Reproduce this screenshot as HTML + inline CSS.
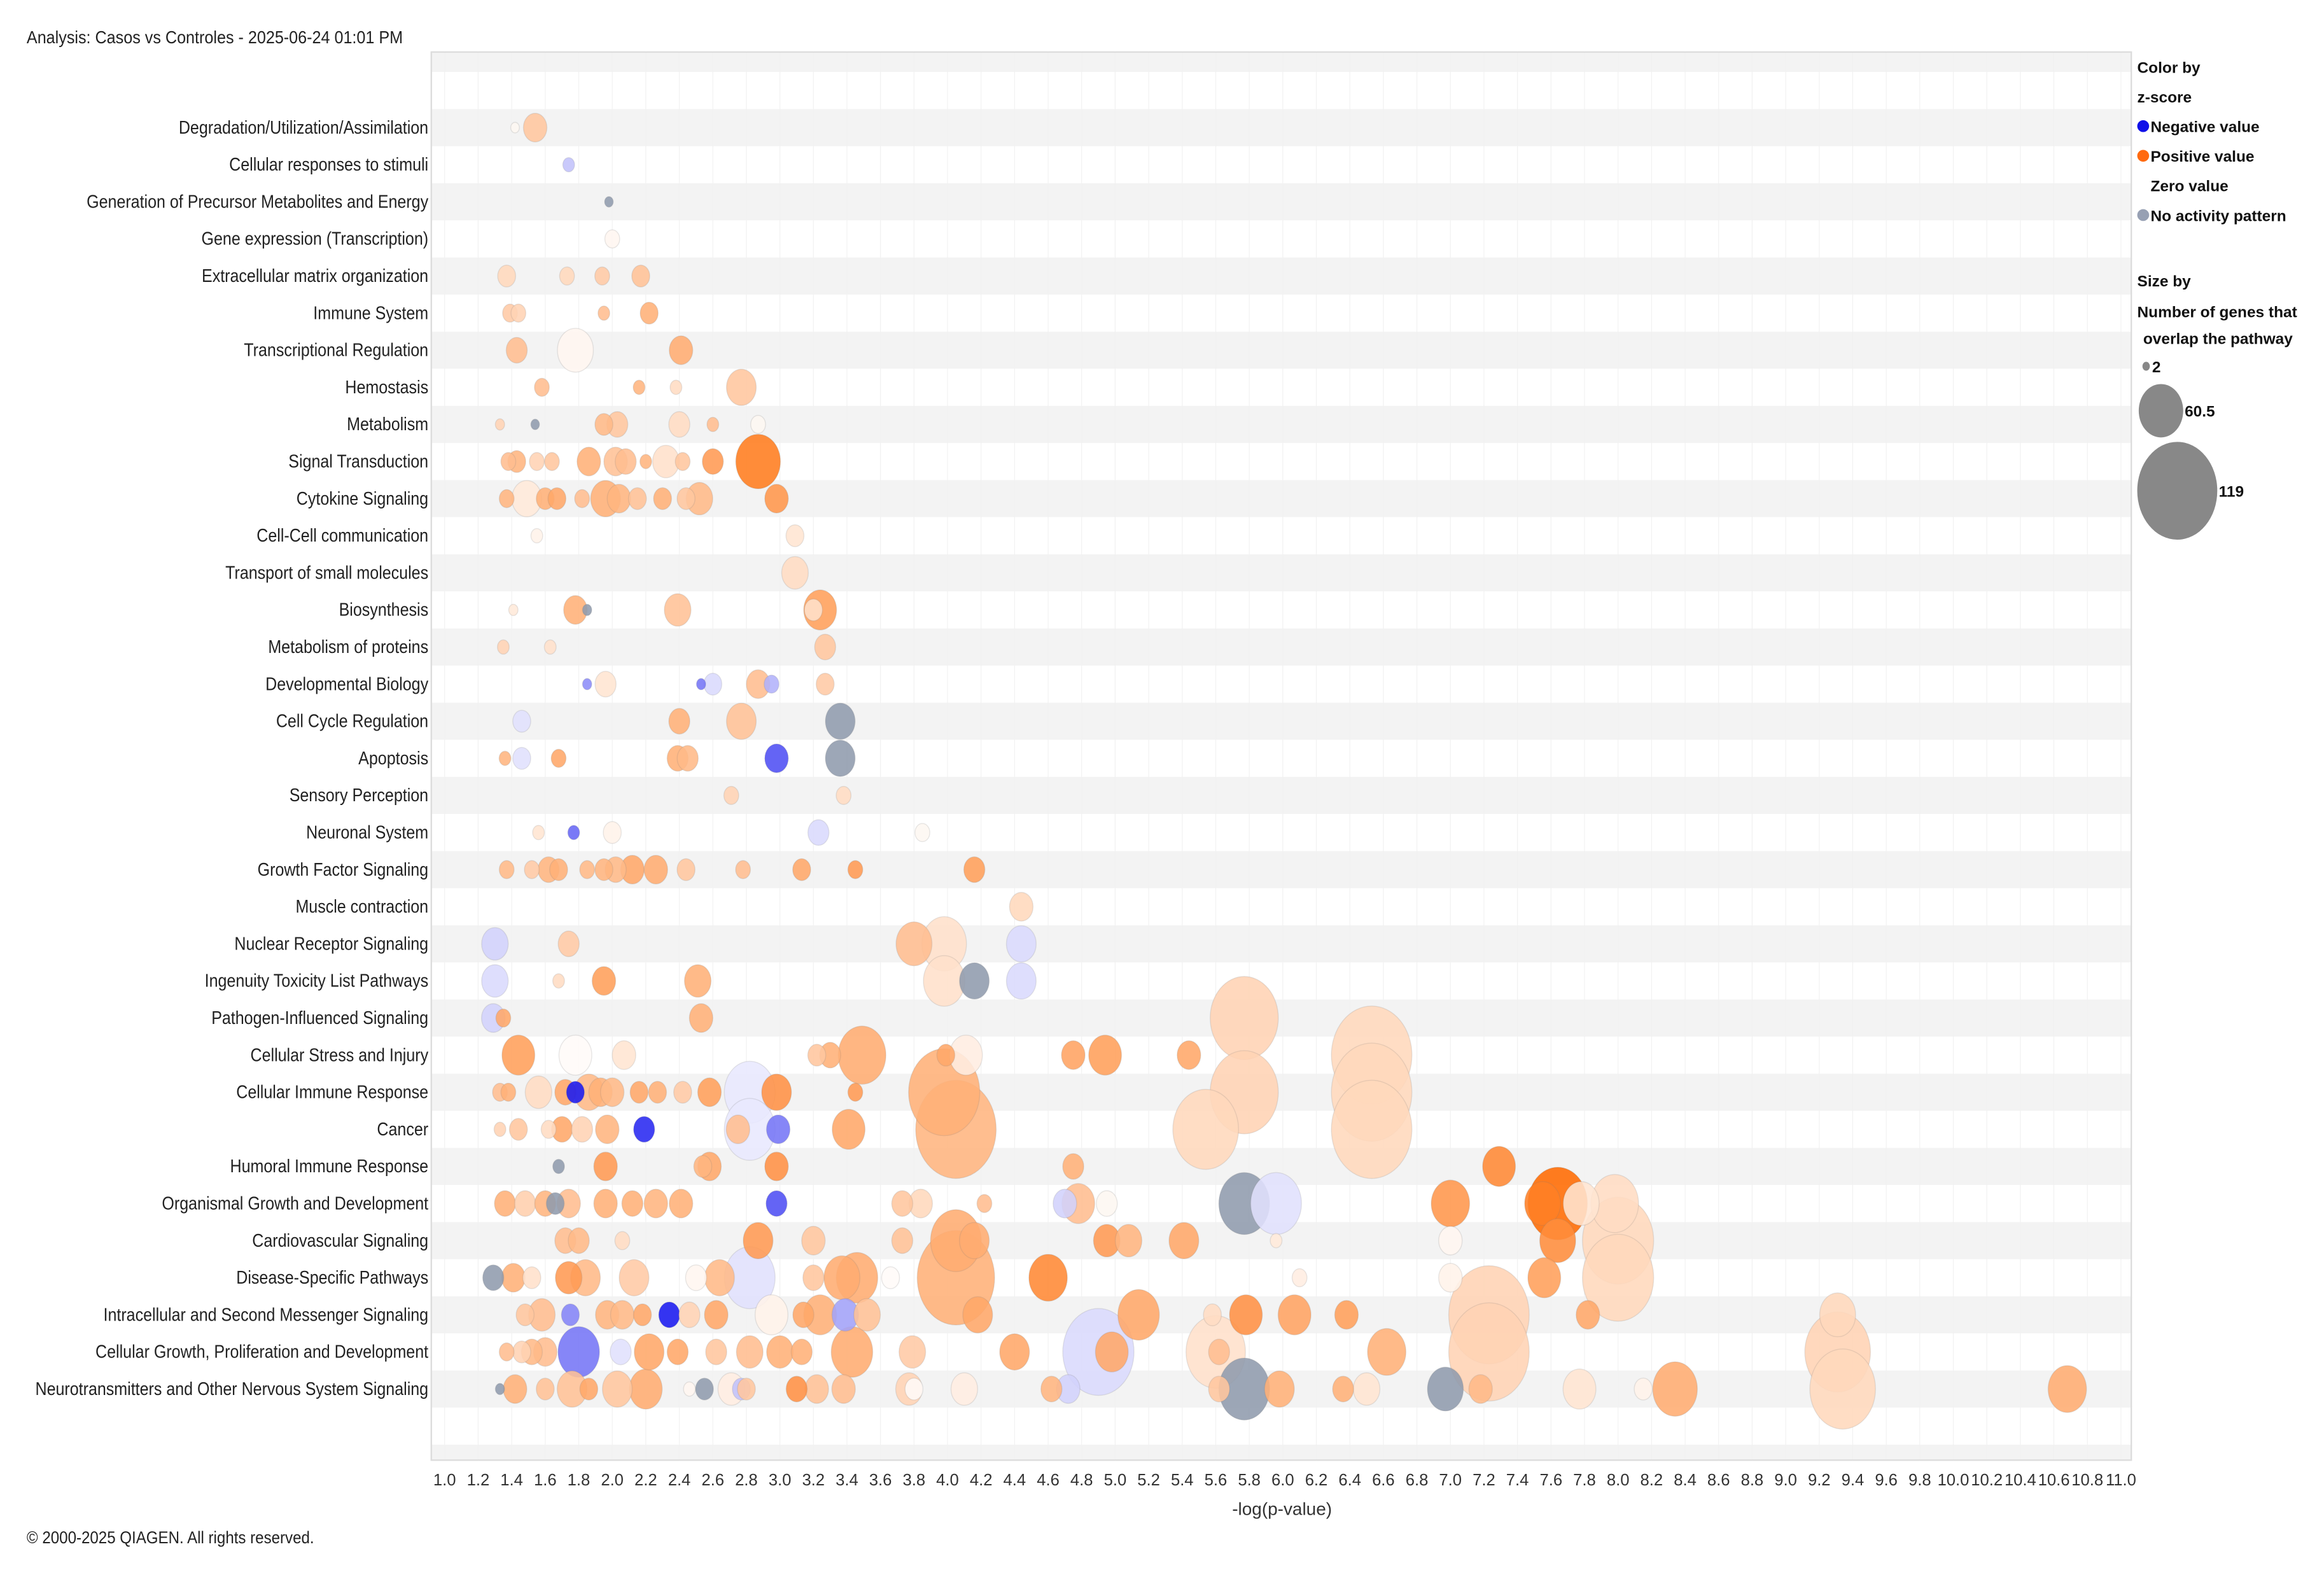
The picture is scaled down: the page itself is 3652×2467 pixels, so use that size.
<!DOCTYPE html>
<html><head><meta charset="utf-8"><style>
html,body{margin:0;padding:0;background:#fff;}
svg{display:block;font-family:"Liberation Sans",sans-serif;}
</style></head><body>
<svg id="chart" width="3652" height="2467" viewBox="0 0 1568 1059" xmlns="http://www.w3.org/2000/svg">
<text x="18" y="29" font-size="12" fill="#222" transform="translate(18,0) scale(0.9,1) translate(-18,0)">Analysis: Casos vs Controles - 2025-06-24 01:01 PM</text>
<g id="bands"></g>
<g id="grid"></g>
<rect x="291" y="35" width="1147" height="950" fill="none" stroke="#dcdcdc" stroke-width="1"/>
<g id="ylabels" transform="translate(289,0) scale(0.86,1)"></g>
<g id="bubbles"></g>
<g id="xticks"></g>
<text x="865" y="1022" font-size="12" text-anchor="middle" fill="#333">-log(p-value)</text>
<text x="18" y="1041" font-size="11.5" fill="#222" transform="translate(18,0) scale(0.9,1) translate(-18,0)">© 2000-2025 QIAGEN. All rights reserved.</text>
<g font-weight="bold" font-size="10.5" fill="#111">
<text x="1442" y="49">Color by</text>
<text x="1442" y="69">z-score</text>
<circle cx="1446" cy="85" r="4" fill="#1010e8"/>
<text x="1451" y="89">Negative value</text>
<circle cx="1446" cy="105" r="4" fill="#ff6a10"/>
<text x="1451" y="109">Positive value</text>
<text x="1451" y="129">Zero value</text>
<circle cx="1446" cy="145" r="4" fill="#97a0b3"/>
<text x="1451" y="149">No activity pattern</text>
<text x="1442" y="193">Size by</text>
<text x="1442" y="214">Number of genes that</text>
<text x="1446" y="232">overlap the pathway</text>
<ellipse cx="1448" cy="247" rx="2.5" ry="3" fill="#888"/>
<text x="1452" y="251">2</text>
<ellipse cx="1458" cy="277" rx="15" ry="18" fill="#888"/>
<text x="1474" y="281">60.5</text>
<ellipse cx="1469" cy="331" rx="27" ry="33" fill="#888"/>
<text x="1497" y="335">119</text>
</g>
</svg>
<script>
const categories = ["Degradation/Utilization/Assimilation","Cellular responses to stimuli","Generation of Precursor Metabolites and Energy","Gene expression (Transcription)","Extracellular matrix organization","Immune System","Transcriptional Regulation","Hemostasis","Metabolism","Signal Transduction","Cytokine Signaling","Cell-Cell communication","Transport of small molecules","Biosynthesis","Metabolism of proteins","Developmental Biology","Cell Cycle Regulation","Apoptosis","Sensory Perception","Neuronal System","Growth Factor Signaling","Muscle contraction","Nuclear Receptor Signaling","Ingenuity Toxicity List Pathways","Pathogen-Influenced Signaling","Cellular Stress and Injury","Cellular Immune Response","Cancer","Humoral Immune Response","Organismal Growth and Development","Cardiovascular Signaling","Disease-Specific Pathways","Intracellular and Second Messenger Signaling","Cellular Growth, Proliferation and Development","Neurotransmitters and Other Nervous System Signaling"];
const xTicks = [1.0,1.2,1.4,1.6,1.8,2.0,2.2,2.4,2.6,2.8,3.0,3.2,3.4,3.6,3.8,4.0,4.2,4.4,4.6,4.8,5.0,5.2,5.4,5.6,5.8,6.0,6.2,6.4,6.6,6.8,7.0,7.2,7.4,7.6,7.8,8.0,8.2,8.4,8.6,8.8,9.0,9.2,9.4,9.6,9.8,10.0,10.2,10.4,10.6,10.8,11.0];
// [category index, -log(p), genes, z-score (null = no activity pattern)]
const bubbles = [
[0,1.42,4,0],[0,1.54,28,1.3],
[1,1.74,9,-0.8],
[2,1.98,4,null],
[3,2.0,14,0.2],
[4,1.37,19,0.9],[4,1.73,14,0.9],[4,1.94,14,1.2],[4,2.17,19,1.4],
[5,1.39,14,1.2],[5,1.44,14,1.0],[5,1.95,9,1.5],[5,2.22,19,1.8],
[6,1.43,24,1.5],[6,1.78,48,0.2],[6,2.41,28,1.9],
[7,1.58,14,1.5],[7,2.16,9,1.7],[7,2.38,9,0.8],[7,2.77,38,1.3],
[8,1.33,5,1.0],[8,1.54,4,null],[8,1.95,19,1.6],[8,2.03,24,1.3],[8,2.40,24,0.8],[8,2.6,9,1.5],[8,2.87,14,0.0],
[9,1.38,14,1.5],[9,1.43,19,1.7],[9,1.55,14,1.0],[9,1.64,14,1.3],[9,1.86,28,1.8],[9,2.02,28,1.4],[9,2.08,24,1.5],[9,2.2,9,1.7],[9,2.32,33,0.7],[9,2.42,14,1.3],[9,2.6,24,2.3],[9,2.87,62,3.0],
[10,1.37,14,1.7],[10,1.49,38,0.5],[10,1.6,19,1.8],[10,1.67,19,2.0],[10,1.82,14,1.5],[10,1.96,38,1.8],[10,2.04,28,1.7],[10,2.15,19,1.4],[10,2.3,19,1.8],[10,2.44,19,1.3],[10,2.52,33,1.6],[10,2.98,28,2.4],
[11,1.55,9,0.3],[11,3.09,19,0.6],
[12,3.09,33,0.8],
[13,1.41,5,0.5],[13,1.78,28,1.8],[13,1.85,5,null],[13,2.39,33,1.4],[13,3.2,19,0.7],[13,3.24,43,2.2],
[14,1.35,9,1.0],[14,1.63,9,0.7],[14,3.27,24,1.3],
[15,1.85,5,-1.5],[15,1.96,24,0.6],[15,2.53,5,-1.8],[15,2.6,19,-0.5],[15,2.87,28,1.5],[15,2.95,14,-1.0],[15,3.27,19,1.2],
[16,1.46,19,-0.4],[16,2.4,24,1.8],[16,2.77,38,1.4],[16,3.36,38,null],
[17,1.36,9,1.7],[17,1.46,19,-0.4],[17,1.68,14,2.0],[17,2.39,24,1.8],[17,2.45,24,1.6],[17,2.98,28,-2.3],[17,3.36,38,null],
[18,2.71,14,1.0],[18,3.38,14,0.8],
[19,1.56,9,0.6],[19,1.77,9,-2.0],[19,2.0,19,0.3],[19,3.23,24,-0.5],[19,3.85,14,0.0],
[20,1.37,14,1.6],[20,1.52,14,1.2],[20,1.62,24,1.7],[20,1.68,19,1.8],[20,1.85,14,1.6],[20,1.95,19,1.7],[20,2.02,24,1.6],[20,2.12,28,2.0],[20,2.26,28,1.9],[20,2.44,19,1.3],[20,2.78,14,1.5],[20,3.13,19,2.0],[20,3.45,14,2.3],[20,4.16,24,2.2],
[21,4.44,28,0.9],
[22,1.30,33,-0.6],[22,1.74,24,1.2],[22,3.8,48,1.5],[22,3.98,62,0.7],[22,4.44,38,-0.5],
[23,1.3,33,-0.5],[23,1.68,9,0.8],[23,1.95,28,2.2],[23,2.51,33,1.8],[23,3.98,57,0.7],[23,4.16,38,null],[23,4.44,38,-0.5],
[24,1.29,28,-0.6],[24,1.35,14,2.0],[24,2.53,28,1.8],[24,5.77,100,1.0],
[25,1.44,43,2.2],[25,1.78,43,0.1],[25,2.07,28,0.6],[25,3.22,19,1.3],[25,3.3,24,1.8],[25,3.49,67,1.9],[25,3.99,19,2.0],[25,4.11,43,0.4],[25,4.75,28,2.1],[25,4.94,43,2.2],[25,5.44,28,2.0],[25,6.53,120,0.9],
[26,1.33,14,1.5],[26,1.38,14,1.8],[26,1.56,33,0.8],[26,1.72,24,2.0],[26,1.78,19,-3.0],[26,1.86,38,1.6],[26,1.93,28,1.8],[26,2.0,28,1.6],[26,2.16,19,2.0],[26,2.27,19,1.8],[26,2.42,19,1.2],[26,2.58,28,2.2],[26,2.82,72,-0.3],[26,2.98,38,2.5],[26,3.45,14,2.3],[26,3.98,105,1.8],[26,5.77,100,1.0],[26,6.53,120,0.9],
[27,1.33,9,1.0],[27,1.44,19,1.3],[27,1.62,14,0.8],[27,1.7,24,2.0],[27,1.82,24,1.0],[27,1.97,28,1.7],[27,2.19,24,-2.8],[27,2.75,28,1.5],[27,2.82,72,-0.3],[27,2.99,28,-1.8],[27,3.41,43,2.0],[27,4.05,120,1.7],[27,5.54,96,0.9],[27,6.53,120,0.9],
[28,1.68,9,null],[28,1.96,28,2.3],[28,2.54,19,1.7],[28,2.58,28,2.0],[28,2.98,28,2.5],[28,4.75,24,1.8],[28,7.29,43,2.7],
[29,1.36,24,1.8],[29,1.48,24,1.1],[29,1.6,24,1.7],[29,1.66,19,null],[29,1.74,28,1.5],[29,1.96,28,1.8],[29,2.12,24,1.8],[29,2.26,28,1.7],[29,2.41,28,1.8],[29,2.98,24,-2.3],[29,3.73,24,1.3],[29,3.84,28,0.9],[29,4.22,14,1.5],[29,4.7,28,-0.6],[29,4.78,43,1.5],[29,4.95,24,0.0],[29,5.77,72,null],[29,5.96,72,-0.4],[29,7.0,52,2.4],[29,7.55,48,2.9],[29,7.64,86,3.4],[29,7.78,48,0.6],[29,7.98,67,0.8],
[30,1.72,24,1.5],[30,1.8,24,1.6],[30,2.06,14,0.8],[30,2.87,38,2.3],[30,3.2,28,1.3],[30,3.73,24,1.4],[30,4.05,72,1.9],[30,4.16,38,1.9],[30,4.95,33,2.3],[30,5.08,33,1.7],[30,5.41,38,2.0],[30,5.96,9,0.5],[30,7.0,28,0.2],[30,7.64,48,2.6],[30,8.0,105,0.9],
[31,1.29,24,null],[31,1.41,28,1.8],[31,1.52,19,0.7],[31,1.74,33,2.3],[31,1.84,38,1.6],[31,2.13,38,1.2],[31,2.5,24,0.2],[31,2.64,38,1.6],[31,2.82,72,-0.4],[31,3.2,24,1.3],[31,3.37,48,1.9],[31,3.46,57,1.9],[31,3.66,19,0.1],[31,4.05,115,1.8],[31,4.6,52,2.7],[31,6.1,14,0.4],[31,7.0,28,0.3],[31,7.56,43,2.2],[31,8.0,105,0.9],
[32,1.48,19,1.3],[32,1.58,33,1.5],[32,1.75,19,-1.6],[32,1.97,28,1.7],[32,2.06,28,1.6],[32,2.18,19,2.0],[32,2.34,24,-3.0],[32,2.46,24,1.0],[32,2.62,28,2.0],[32,2.95,43,0.3],[32,3.14,24,2.0],[32,3.24,43,1.8],[32,3.39,33,-1.2],[32,3.52,33,1.4],[32,4.18,38,2.0],[32,5.14,57,2.0],[32,5.58,19,0.8],[32,5.78,43,2.5],[32,6.07,43,2.1],[32,6.38,28,2.2],[32,7.23,120,1.0],[32,7.82,28,2.0],[32,9.31,48,0.9],
[33,1.37,14,1.5],[33,1.46,19,1.0],[33,1.52,24,1.6],[33,1.6,28,1.5],[33,1.8,57,-1.8],[33,2.05,24,-0.4],[33,2.22,38,2.0],[33,2.39,24,2.0],[33,2.62,24,1.3],[33,2.82,33,1.5],[33,3.0,33,1.8],[33,3.13,24,1.8],[33,3.43,57,1.9],[33,3.79,33,1.2],[33,4.4,38,2.0],[33,4.9,105,-0.5],[33,4.98,43,2.0],[33,5.6,86,0.7],[33,5.62,24,1.5],[33,6.62,52,1.8],[33,7.23,120,1.0],[33,9.31,96,1.0],
[34,1.33,5,null],[34,1.42,28,1.8],[34,1.6,19,1.4],[34,1.76,38,1.4],[34,1.86,19,2.0],[34,2.03,38,1.3],[34,2.2,43,1.9],[34,2.46,9,0.2],[34,2.55,19,null],[34,2.71,33,0.4],[34,2.77,19,-0.8],[34,2.8,19,1.3],[34,3.1,24,2.5],[34,3.22,28,1.4],[34,3.38,28,1.5],[34,3.77,33,1.0],[34,3.8,19,0.1],[34,4.1,33,0.4],[34,4.62,24,1.7],[34,4.72,28,-0.6],[34,5.62,24,1.3],[34,5.77,72,null],[34,5.98,38,1.8],[34,6.36,24,1.8],[34,6.5,33,0.6],[34,6.97,48,null],[34,7.18,28,1.6],[34,7.77,43,0.6],[34,8.15,19,0.3],[34,8.34,62,1.9],[34,9.34,96,0.9],[34,10.68,52,1.9]
];

const NS = "http://www.w3.org/2000/svg";
const PL = 291, PR = 1438, PT = 35, PB = 985;
function xScale(v){ return 300 + (v - 1.0) * 113.1; }
function yScale(i){ return 86 + i * 25.03; }
function rScale(g){ return 2.5 + (g - 2) * 0.209; }
function colorOf(z){
  if (z === null) return "#909bad";
  if (z === 0) return "#fdf7f1";
  if (z > 0){ const t = Math.min(z/3.4,1); return `rgb(255,${Math.round(255-149*t)},${Math.round(255-255*t)})`; }
  const t = Math.min(-z/3,1); return `rgb(${Math.round(255-230*t)},${Math.round(255-230*t)},${Math.round(255-15*t)})`;
}
function mk(tag, attrs, parent){ const e = document.createElementNS(NS, tag); for (const k in attrs) e.setAttribute(k, attrs[k]); parent.appendChild(e); return e; }

const bands = document.getElementById("bands");
for (let i = -2; i <= 36; i++){
  if (i % 2 !== 0) continue;
  const yc = yScale(i);
  let y0 = Math.max(PT, yc - 12.5), y1 = Math.min(PB, yc + 12.5);
  if (y1 <= y0) continue;
  const r = mk("rect", {x:PL, y:y0, width:PR-PL, height:y1-y0, fill:"#f3f3f3"}, bands);
  
  
}
const grid = document.getElementById("grid");
const xt = document.getElementById("xticks");
xTicks.forEach(v => {
  const x = xScale(v);
  const l = mk("line", {x1:x, x2:x, y1:PT, y2:PB, stroke:"#f1f1f1", "stroke-width":0.5}, grid);
  
  
  const t = mk("text", {x:x, y:1002, "font-size":11, "text-anchor":"middle", fill:"#333"}, xt);
  
  
  t.textContent = v.toFixed(1);
});
const yl = document.getElementById("ylabels");
categories.forEach((c, i) => {
  const t = mk("text", {x:0, y:yScale(i)+4, "font-size":12.5, "text-anchor":"end", fill:"#222"}, yl);
  
  
  t.textContent = c;
});
const bg = document.getElementById("bubbles");
const order = bubbles.map((b, i) => i).sort((a, b) => bubbles[b][2] - bubbles[a][2]);
order.forEach(i => {
  const b = bubbles[i];
  const rx = rScale(b[2]);
  const e = mk("ellipse", {cx:xScale(b[1]), cy:yScale(b[0]), rx:rx, ry:rx*1.22, fill:colorOf(b[3]), "fill-opacity":0.88, stroke:"rgba(120,120,120,0.18)", "stroke-width":0.6}, bg);
  
  
});
</script>
</body></html>
